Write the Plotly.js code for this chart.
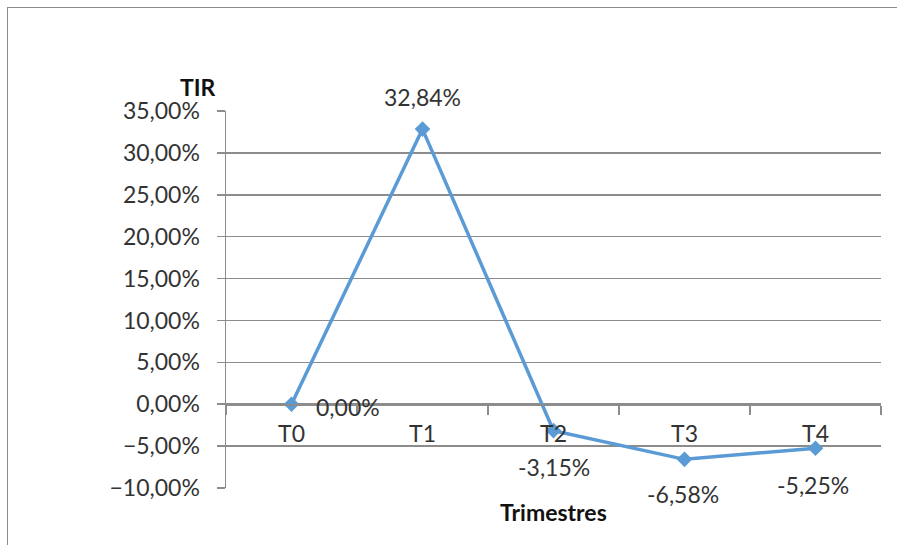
<!DOCTYPE html>
<html>
<head>
<meta charset="utf-8">
<script src="https://cdn.plot.ly/plotly-3.0.1.min.js"></script>
<style>
  html, body { margin: 0; padding: 0; background: #fff; }
  #wrap { position: relative; width: 897px; height: 545px; overflow: hidden; }
  #chart { position: absolute; left: 0; top: 0; width: 897px; height: 545px; }
  #frame { position: absolute; left: 7px; top: 7px; width: 960px; height: 600px;
           border-left: 1.5px solid #8c8c8c; border-top: 1.5px solid #8c8c8c;
           pointer-events: none; }
</style>
</head>
<body>
<div id="wrap">
  <div id="chart"></div>
  <div id="frame"></div>
</div>
<script>
// Quarterly IRR (TIR) values
const quarters = ['T0', 'T1', 'T2', 'T3', 'T4'];
const tir = [0.0000, 0.3284, -0.0315, -0.0658, -0.0525];
// label offsets around each point (pixels)
const labelShiftX = [56, 0, 0, -2, -3];
const labelShiftY = [-3, 32, -36, -35, -37];

const fontFam = 'Lato, "Open Sans", sans-serif';
const txtColor = '#333333';
const yMin = -0.10, yMax = 0.35;

function pct(v) {
  return (v * 100).toFixed(2).replace('.', ',') + '%';
}

const trace = {
  x: quarters,
  y: tir,
  type: 'scatter',
  mode: 'lines+markers',
  line: { color: '#5B9BD5', width: 3.5 },
  marker: { symbol: 'diamond', size: 12, color: '#5B9BD5' },
  hoverinfo: 'skip'
};

const annotations = quarters.map((q, i) => ({
  x: q, y: tir[i], xref: 'x', yref: 'y',
  text: pct(tir[i]), showarrow: false,
  xshift: labelShiftX[i], yshift: labelShiftY[i],
  font: { family: fontFam, size: 23, color: txtColor }
}));

annotations.push({
  xref: 'paper', yref: 'paper', x: -0.073, y: 1.0, yanchor: 'bottom', yshift: 8,
  text: '<b>TIR</b>', showarrow: false,
  font: { family: fontFam, size: 23, color: '#111' }
});
annotations.push({
  xref: 'paper', yref: 'paper', x: 0.50, y: 0, yanchor: 'top', yshift: -8,
  text: '<b>Trimestres</b>', showarrow: false,
  font: { family: fontFam, size: 23, color: '#111' }
});

const layout = {
  width: 897, height: 545,
  margin: { l: 226, r: 16, t: 111, b: 57 },
  paper_bgcolor: '#ffffff', plot_bgcolor: '#ffffff',
  separators: ',.',
  showlegend: false,
  xaxis: {
    type: 'category',
    range: [-0.5, 4.5],
    anchor: 'free',
    position: (0 - yMin) / (yMax - yMin),
    showgrid: false, zeroline: false,
    showline: true, linecolor: '#8c8c8c', linewidth: 1.5,
    ticks: 'outside', tickson: 'boundaries', ticklen: 9, tickwidth: 1.5, tickcolor: '#8c8c8c',
    ticklabelstandoff: 9,
    tickfont: { family: fontFam, size: 23, color: txtColor },
    fixedrange: true
  },
  yaxis: {
    range: [yMin, yMax],
    dtick: 0.05, tick0: 0,
    tickformat: '.2%',
    showgrid: true, gridcolor: '#8c8c8c', gridwidth: 1.5,
    zeroline: false,
    showline: true, linecolor: '#8c8c8c', linewidth: 1.5,
    ticks: 'outside', ticklen: 8, tickwidth: 1.5, tickcolor: '#8c8c8c',
    ticklabelstandoff: 12,
    tickfont: { family: fontFam, size: 23, color: txtColor },
    fixedrange: true
  },
  annotations: annotations
};

Plotly.newPlot('chart', [trace], layout, { staticPlot: true, displayModeBar: false });
</script>
</body>
</html>
